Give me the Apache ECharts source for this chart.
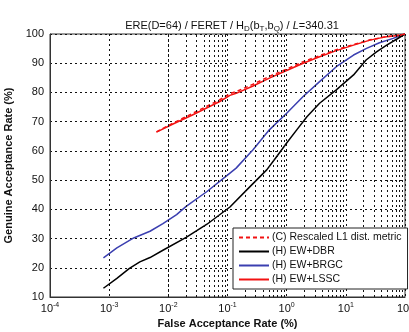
<!DOCTYPE html>
<html>
<head>
<meta charset="utf-8">
<script src="https://cdn.jsdelivr.net/npm/echarts@6/dist/echarts.min.js"></script>
<style>
  html, body { margin: 0; padding: 0; background: #fff; }
  #chart { width: 409px; height: 332px; }
</style>
</head>
<body>
<div id="chart"></div>
<script>
// False acceptance rate (%) / genuine acceptance rate (%) pairs for each method
const l1Far  = [0.0063, 0.012, 0.025, 0.074, 0.11, 0.14, 0.27, 0.51, 1.0, 1.9, 3.6, 6.9, 13.5, 25.7, 49, 83, 100];
const l1Gar  = [66.5, 69.5, 72.7, 77.5, 79.6, 80.3, 82.8, 85.5, 88.0, 90.5, 92.6, 94.6, 96.4, 98.0, 99.1, 99.6, 100];

const dbrFar = [0.0008, 0.00135, 0.0022, 0.0033, 0.0049, 0.0081, 0.02, 0.045, 0.11, 0.22, 0.46, 0.68, 1.0, 1.48, 2.2, 3.6, 6.9, 13.5, 22, 33, 49, 72, 100];
const dbrGar = [13.0, 16.4, 19.8, 22.0, 23.5, 26.0, 30.4, 34.9, 40.8, 47.0, 53.5, 58.1, 62.7, 67.2, 71.7, 76.3, 80.9, 86.0, 91.1, 93.9, 96.2, 98.2, 100];

const brgcFar = [0.0008, 0.00135, 0.0026, 0.0049, 0.0081, 0.0138, 0.02, 0.045, 0.11, 0.14, 0.27, 0.51, 1.0, 1.9, 3.6, 6.9, 13.5, 22.4, 37, 63, 100];
const brgcGar = [23.4, 26.8, 30.2, 32.5, 35.1, 38.2, 41.0, 46.1, 52.4, 54.1, 60.4, 67.2, 72.9, 78.6, 83.7, 88.8, 92.8, 95.1, 97.0, 98.5, 100];

const lsscFar = [0.0063, 0.012, 0.025, 0.074, 0.11, 0.14, 0.27, 0.51, 1.0, 1.9, 3.6, 6.9, 13.5, 25.7, 49, 83, 100];
const lsscGar = [66.4, 69.2, 72.2, 76.9, 79.0, 79.7, 82.2, 84.9, 87.5, 90.0, 92.2, 94.3, 96.2, 97.9, 99.1, 99.6, 100];

const seriesNames = ['(C) Rescaled L1 dist. metric', '(H) EW+DBR', '(H) EW+BRGC', '(H) EW+LSSC'];
const yTicks = [10, 20, 30, 40, 50, 60, 70, 80, 90, 100];

const zip = (xs, ys) => xs.map((x, i) => [x, ys[i]]);

// Minor decade gridlines (2..9 x 10^k) for the log axis
const minorLines = [];
for (let e = -4; e <= 1; e++) {
  for (let k = 2; k <= 9; k++) minorLines.push({ xAxis: k * Math.pow(10, e) });
}

const FONT = '"Liberation Sans", Arial, sans-serif';
const dotted = { color: '#111', width: 1, type: [2, 3] };

const chart = echarts.init(document.getElementById('chart'), null, { renderer: 'canvas' });
chart.setOption({
  animation: false,
  backgroundColor: '#fff',
  textStyle: { fontFamily: FONT },
  title: {
    text: 'ERE(D=64) / FERET / H{sub|D}(b{sub|T},b{sub|Q}) / {it|L}=340.31',
    left: 227, top: 14, textAlign: 'center',
    textStyle: {
      fontFamily: FONT, fontSize: 11, fontWeight: 'normal', color: '#111',
      rich: {
        sub: { fontFamily: FONT, fontSize: 8, color: '#111', verticalAlign: 'bottom', padding: [6, 0, 0, 0] },
        it: { fontFamily: FONT, fontSize: 11, fontStyle: 'italic', color: '#111' }
      }
    }
  },
  grid: {
    left: 50, right: 4, top: 34, bottom: 35,
    outerBoundsMode: 'none', containLabel: false,
    show: true, borderColor: '#333', borderWidth: 1, backgroundColor: '#fff'
  },
  legend: {
    data: seriesNames,
    orient: 'vertical',
    left: 233, top: 228,
    z: 50, zlevel: 1,
    padding: [4, 6, 4, 5],
    itemGap: 3,
    itemWidth: 30, itemHeight: 12,
    backgroundColor: '#fff',
    borderColor: '#222', borderWidth: 1,
    itemStyle: { opacity: 0 },
    textStyle: { fontFamily: FONT, fontSize: 10.5, color: '#111', padding: [0, 0, 0, -2] }
  },
  xAxis: {
    type: 'log', logBase: 10, min: 1e-4, max: 100,
    name: 'False Acceptance Rate (%)', nameLocation: 'middle', nameGap: 21,
    nameTextStyle: { fontFamily: FONT, fontSize: 11, fontWeight: 'bold', color: '#111' },
    axisLine: { lineStyle: { color: '#333' } },
    axisTick: { show: false },
    splitLine: { show: true, lineStyle: dotted },
    axisLabel: {
      margin: 5, color: '#111',
      formatter: v => '10{e|' + Math.round(Math.log10(v)) + '}',
      fontFamily: FONT, fontSize: 11,
      rich: { e: { fontFamily: FONT, fontSize: 7, color: '#111', verticalAlign: 'top', padding: [0, 0, 6, 0] } }
    }
  },
  yAxis: {
    type: 'value', min: yTicks[0], max: yTicks[yTicks.length - 1], interval: 10,
    name: 'Genuine Acceptance Rate (%)', nameLocation: 'middle', nameGap: 32,
    nameTextStyle: { fontFamily: FONT, fontSize: 11, fontWeight: 'bold', color: '#111' },
    axisLine: { show: true, lineStyle: { color: '#333' } },
    axisTick: { show: false },
    splitLine: { show: true, lineStyle: dotted },
    axisLabel: { margin: 6, color: '#111', fontFamily: FONT, fontSize: 11 }
  },
  series: [
    {
      name: 'minor grid', type: 'line', data: [], silent: true,
      markLine: { silent: true, symbol: 'none', label: { show: false }, lineStyle: dotted, emphasis: { disabled: true }, data: minorLines }
    },
    { name: seriesNames[2], type: 'line', data: zip(brgcFar, brgcGar), showSymbol: false, symbol: 'none', lineStyle: { color: '#3b3fb0', width: 1.5 }, itemStyle: { color: '#3b3fb0' }, z: 3 },
    { name: seriesNames[1], type: 'line', data: zip(dbrFar, dbrGar), showSymbol: false, symbol: 'none', lineStyle: { color: '#000', width: 1.5 }, itemStyle: { color: '#000' }, z: 3 },
    { name: seriesNames[3], type: 'line', data: zip(lsscFar, lsscGar), showSymbol: false, symbol: 'none', lineStyle: { color: '#f21212', width: 1.5 }, itemStyle: { color: '#f21212' }, z: 4 },
    { name: seriesNames[0], type: 'line', data: zip(l1Far, l1Gar), showSymbol: false, symbol: 'none', lineStyle: { color: '#f21212', width: 1.5, type: [4, 3] }, itemStyle: { color: '#f21212' }, z: 4 }
  ]
});
</script>
</body>
</html>
